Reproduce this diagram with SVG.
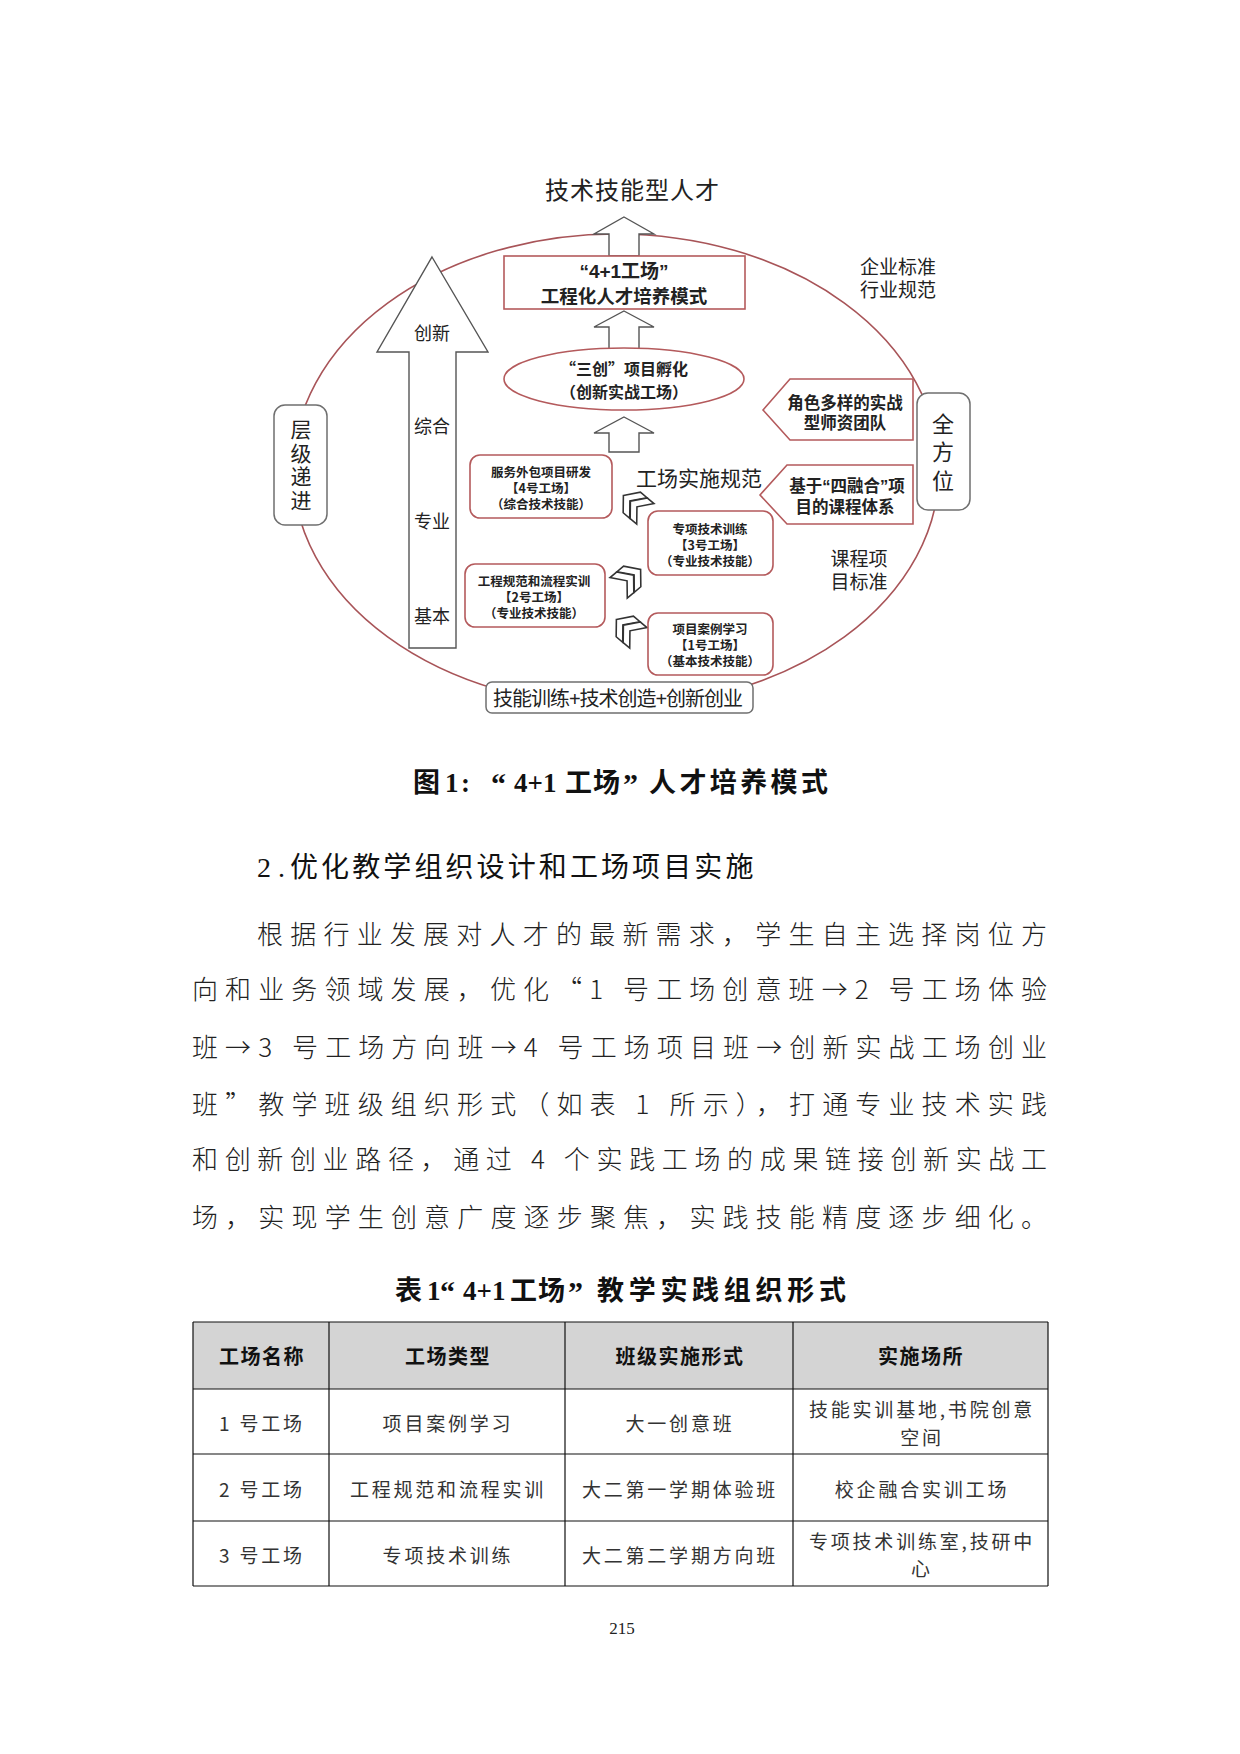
<svg xmlns="http://www.w3.org/2000/svg" width="1240" height="1754" viewBox="0 0 1240 1754">
<style>
.t{font-family:'Noto Sans CJK SC',sans-serif;fill:#222;text-anchor:middle;dominant-baseline:central}
.lt{font-family:'Liberation Sans','Noto Sans CJK SC',sans-serif;fill:#222;text-anchor:middle;dominant-baseline:central}
.v{font-family:'Noto Sans CJK SC',sans-serif;fill:#222;text-anchor:middle;writing-mode:vertical-rl}
.b{font-weight:700}
.red{fill:#fff;stroke:#b45a5c;stroke-width:1.6}
.gray{fill:#fff;stroke:#6f6f6f;stroke-width:1.5}
.arr{fill:#fff;stroke:#555;stroke-width:1.4}
.chev{fill:#fff;stroke:#333;stroke-width:1.3;stroke-linejoin:miter}
.body{font-family:'Noto Sans CJK SC',sans-serif;font-weight:300;fill:#222;font-size:26px;dominant-baseline:central}
.cap{font-family:'Liberation Serif','Noto Sans CJK SC',serif;font-weight:700;fill:#111;font-size:27px;dominant-baseline:central}
.q{font-size:30px}
.tb{font-family:'Noto Sans CJK SC',sans-serif;fill:#333;font-size:19px;letter-spacing:2.8px;text-anchor:middle;dominant-baseline:central}
.th{font-family:'Noto Sans CJK SC',sans-serif;fill:#111;font-size:20px;font-weight:700;letter-spacing:1.5px;text-anchor:middle;dominant-baseline:central}
.grid{stroke:#111;stroke-width:1.2;fill:none}
</style>
<defs>
<g id="dchev">
<polygon class="chev" points="-13.5,0 -4.5,-11 2.5,-11 -6.5,0 2.5,11 -4.5,11"/>
<polygon class="chev" points="-6,0 3,-11 10,-11 1,0 10,11 3,11"/>
</g>
</defs>
<rect width="1240" height="1754" fill="#fff"/>

<g id="outer-ellipse">
<ellipse cx="616" cy="470" rx="323" ry="236" fill="none" stroke="#a85458" stroke-width="1.6"/>
</g>

<g id="title">
<text class="t" x="632" y="188" font-size="24" textLength="174">技术技能型人才</text>
</g>

<g id="connectors">
<polygon class="arr" points="624,217 654,234 639,234 639,256 609,256 609,234 594,234"/>
<polygon class="arr" points="624,311 654,327 639,327 639,349 609,349 609,327 594,327"/>
<polygon class="arr" points="624,417 654,433 639,433 639,452 609,452 609,433 594,433"/>
<use href="#dchev" transform="translate(636,506) rotate(40) scale(1.22)"/>
<use href="#dchev" transform="translate(628,580) rotate(140) scale(1.22)"/>
<use href="#dchev" transform="translate(629,630) rotate(40) scale(1.22)"/>
</g>

<g id="mode-box">
<rect class="red" x="504" y="256" width="241" height="53"/>
<text class="lt b"><tspan x="624" y="271" font-size="19">“4+1工场”</tspan><tspan x="624" y="296" font-size="18.5">工程化人才培养模式</tspan></text>
</g>

<g id="sanchuang">
<ellipse class="red" cx="624" cy="379" rx="120" ry="31"/>
<text class="t b" font-size="16"><tspan x="624" y="368">“三创”项目孵化</tspan><tspan x="624" y="391">（创新实战工场）</tspan></text>
</g>

<g id="level-arrow">
<polygon class="arr" points="432,257 488,352 456,352 456,648 409,648 409,352 377,352"/>
<text class="t" x="432" y="332" font-size="18" fill="#333">创新</text>
<text class="t" x="432" y="425" font-size="18" fill="#444">综合</text>
<text class="t" x="432" y="520" font-size="18" fill="#444">专业</text>
<text class="t" x="432" y="615" font-size="18" fill="#444">基本</text>
</g>

<g id="cengji">
<rect class="gray" x="274" y="405" width="53" height="120" rx="11"/>
<text class="v" x="301" y="466" font-size="21" letter-spacing="2.5">层级递进</text>
</g>

<g id="quanfangwei">
<rect class="gray" x="917" y="393" width="53" height="117" rx="11"/>
<text class="v" x="943" y="455" font-size="22" letter-spacing="6.5">全方位</text>
</g>

<g id="enterprise-std">
<text class="t" font-size="19" fill="#333"><tspan x="898" y="265">企业标准</tspan><tspan x="898" y="288">行业规范</tspan></text>
</g>

<g id="teachers">
<polygon class="red" points="763,410 790,379 913,379 913,440 790,440"/>
<text class="t b" font-size="16.5"><tspan x="845" y="402">角色多样的实战</tspan><tspan x="845" y="422">型师资团队</tspan></text>
</g>

<g id="curriculum">
<polygon class="red" points="760,495 787,465 913,465 913,524 787,524"/>
<text class="lt b" font-size="16.5"><tspan x="847" y="486">基于“四融合”项</tspan><tspan x="845" y="507">目的课程体系</tspan></text>
</g>

<g id="workshop-norm">
<text class="t" x="699" y="477" font-size="21" fill="#333">工场实施规范</text>
</g>

<g id="course-std">
<text class="t" font-size="19" fill="#333"><tspan x="859" y="557">课程项</tspan><tspan x="859" y="580">目标准</tspan></text>
</g>

<g id="ws4">
<rect class="red" x="470" y="455" width="142" height="63" rx="10"/>
<text class="t b" font-size="12.5"><tspan x="541" y="471">服务外包项目研发</tspan><tspan x="541" y="487">【4号工场】</tspan><tspan x="541" y="503">（综合技术技能）</tspan></text>
</g>

<g id="ws3">
<rect class="red" x="648" y="511" width="125" height="64" rx="10"/>
<text class="t b" font-size="12.5"><tspan x="710" y="528">专项技术训练</tspan><tspan x="710" y="544">【3号工场】</tspan><tspan x="710" y="560">（专业技术技能）</tspan></text>
</g>

<g id="ws2">
<rect class="red" x="465" y="564" width="140" height="63" rx="10"/>
<text class="t b" font-size="12.5"><tspan x="534" y="580">工程规范和流程实训</tspan><tspan x="534" y="596">【2号工场】</tspan><tspan x="534" y="612">（专业技术技能）</tspan></text>
</g>

<g id="ws1">
<rect class="red" x="648" y="613" width="125" height="62" rx="10"/>
<text class="t b" font-size="12.5"><tspan x="710" y="628">项目案例学习</tspan><tspan x="710" y="644">【1号工场】</tspan><tspan x="710" y="660">（基本技术技能）</tspan></text>
</g>

<g id="bottom-box">
<rect class="gray" x="486" y="682" width="267" height="31" rx="6"/>
<text class="lt" x="618" y="699" font-size="20" textLength="250" fill="#333">技能训练+技术创造+创新创业</text>
</g>

<g id="caption">
<text class="cap" y="783"><tspan x="413">图</tspan><tspan x="445">1</tspan><tspan x="461">:</tspan><tspan class="q" x="491">“</tspan><tspan x="514">4+1</tspan><tspan x="565" letter-spacing="1">工场</tspan><tspan class="q" x="623">”</tspan><tspan x="649" letter-spacing="3.4">人才培养模式</tspan></text>
</g>

<g id="heading">
<text y="867" font-family="'Liberation Serif','Noto Sans CJK SC',serif" font-size="28" fill="#111" dominant-baseline="central"><tspan x="257" letter-spacing="7">2.</tspan><tspan x="290" letter-spacing="3.1">优化教学组织设计和工场项目实施</tspan></text>
</g>

<g id="paragraph">
<text class="body" x="257" y="932" textLength="790" lengthAdjust="spacing">根据行业发展对人才的最新需求，学生自主选择岗位方</text>
<text class="body" x="192" y="987" textLength="855" lengthAdjust="spacing">向和业务领域发展，优化“1 号工场创意班→2 号工场体验</text>
<text class="body" x="192" y="1045" textLength="855" lengthAdjust="spacing">班→3 号工场方向班→4 号工场项目班→创新实战工场创业</text>
<text class="body" x="192" y="1102" textLength="855" lengthAdjust="spacing">班”教学班级组织形式（如表 1 所示），打通专业技术实践</text>
<text class="body" x="192" y="1157" textLength="855" lengthAdjust="spacing">和创新创业路径，通过 4 个实践工场的成果链接创新实战工</text>
<text class="body" x="192" y="1215" textLength="855" lengthAdjust="spacing">场，实现学生创意广度逐步聚焦，实践技能精度逐步细化。</text>
</g>

<g id="table-title">
<text class="cap" y="1291"><tspan x="395">表</tspan><tspan x="427">1</tspan><tspan class="q" x="440">“</tspan><tspan x="463">4+1</tspan><tspan x="510" letter-spacing="1">工场</tspan><tspan class="q" x="568">”</tspan><tspan x="597" letter-spacing="4.7">教学实践组织形式</tspan></text>
</g>

<g id="table">
<rect x="193" y="1322" width="855" height="67" fill="#d4d4d4"/>
<path class="grid" d="M193,1322H1048M193,1389H1048M193,1454H1048M193,1521H1048M193,1586H1048M193,1322V1586M329,1322V1586M565,1322V1586M793,1322V1586M1048,1322V1586"/>
<text class="th" x="262" y="1355">工场名称</text>
<text class="th" x="448" y="1355">工场类型</text>
<text class="th" x="680" y="1355">班级实施形式</text>
<text class="th" x="921" y="1355">实施场所</text>

<text class="tb" x="262" y="1422">1 号工场</text>
<text class="tb" x="448" y="1422">项目案例学习</text>
<text class="tb" x="680" y="1422">大一创意班</text>
<text class="tb"><tspan x="922" y="1408">技能实训基地,书院创意</tspan><tspan x="922" y="1436">空间</tspan></text>

<text class="tb" x="262" y="1488">2 号工场</text>
<text class="tb" x="448" y="1488">工程规范和流程实训</text>
<text class="tb" x="680" y="1488">大二第一学期体验班</text>
<text class="tb" x="922" y="1488">校企融合实训工场</text>

<text class="tb" x="262" y="1554">3 号工场</text>
<text class="tb" x="448" y="1554">专项技术训练</text>
<text class="tb" x="680" y="1554">大二第二学期方向班</text>
<text class="tb"><tspan x="922" y="1540">专项技术训练室,技研中</tspan><tspan x="922" y="1567">心</tspan></text>
</g>

<g id="page-number">
<text x="622" y="1628" font-family="'Liberation Serif',serif" font-size="17" fill="#222" text-anchor="middle" dominant-baseline="central">215</text>
</g>
</svg>
